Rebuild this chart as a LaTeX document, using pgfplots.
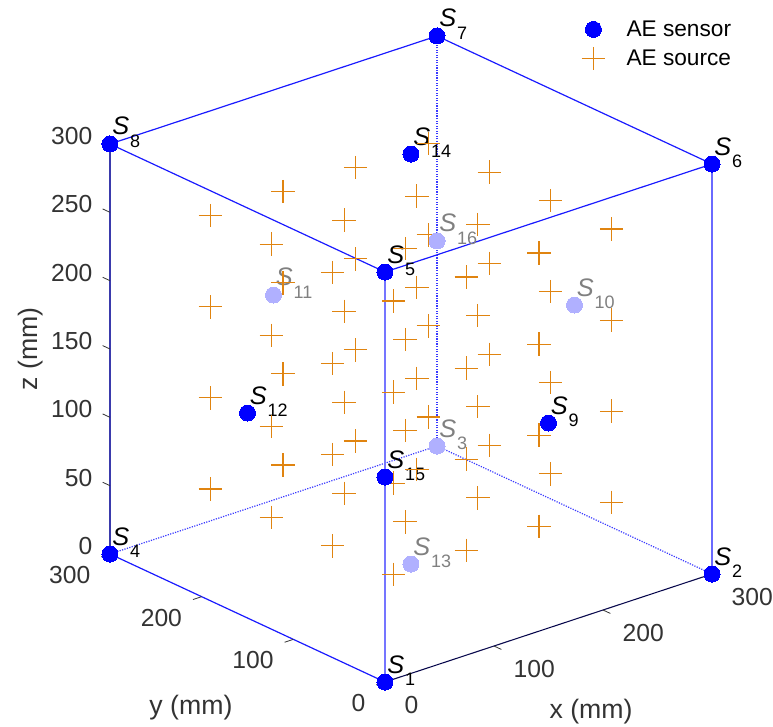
\documentclass[border=0pt]{standalone}
\usepackage{fontspec}
\setmainfont{Liberation Sans}
\usepackage{pgfplots}
\pgfplotsset{compat=1.18}
\definecolor{src}{HTML}{E08410}
\definecolor{pale}{HTML}{B0B0FF}
\definecolor{edge}{HTML}{1A1AFF}
\definecolor{front}{HTML}{7575FF}
\definecolor{dots}{HTML}{3A3AFF}
\definecolor{axc}{HTML}{333333}
\newcommand{\slab}[5][black]{\node[anchor=base west,inner sep=0pt,text=#1,xshift=1.5pt,yshift=6.75pt] at (axis cs:#2,#3,#4) {\fontsize{19pt}{19pt}\selectfont\textit{S}\raisebox{-9.5pt}{\hspace{0.8pt}\fontsize{13.5pt}{13.5pt}\selectfont #5}};}
\newcommand{\tk}[2]{\addplot3[forget plot,axc,line width=0.6pt] coordinates {#1 #2};}
\begin{document}
\begin{tikzpicture}
\path[use as bounding box] (-288.75pt,-33pt) rectangle (291pt,511.5pt);
\begin{axis}[
  at={(0,0)},anchor=origin,
  x={(0.8175pt,0.27pt)},y={(-0.6875pt,0.32pt)},z={(0pt,1.025pt)},
  xmin=0,xmax=300,ymin=0,ymax=300,zmin=0,zmax=300,
  clip=false,
  /pgf/number format/assume math mode=true,
  xtick={0,100,200,300},ytick={0,100,200,300},ztick={0,50,100,150,200,250,300},
  major tick length=0pt,
  tick style={draw=none},
  axis line style={draw=none},
  ticklabel style={text=axc,font=\fontsize{18.5pt}{18.5pt}\selectfont},
  xticklabel style={anchor=west,xshift=11.25pt,yshift=-17.25pt},
  yticklabel style={anchor=east,xshift=-11.25pt,yshift=-15.75pt},
  zticklabel style={anchor=east,xshift=-9.75pt,yshift=6pt},
  label style={text=axc,font=\fontsize{20pt}{20pt}\selectfont},
  xlabel={x (mm)},ylabel={y (mm)},zlabel={z (mm)},
  xlabel style={at={(axis cs:150,0,0)},anchor=center,xshift=31.9pt,yshift=-63pt},
  ylabel style={at={(axis cs:0,150,0)},anchor=center,xshift=-42.4pt,yshift=-67.5pt},
  zlabel style={at={(axis cs:0,300,150)},anchor=center,yshift=59.25pt},
  legend style={at={(axis description cs:0.72,0.985)},anchor=north west,draw=none,fill=none,
    xshift=25.5pt,yshift=23pt,
    font=\fontsize{17pt}{17pt}\selectfont,row sep=4.5pt},
  legend cell align=left,
]
\addlegendimage{only marks,mark=*,mark size=6pt,mark options={draw=blue,fill=blue,line width=0pt}}
\addlegendentry{\hspace{14pt}AE sensor}
\addlegendimage{only marks,mark=+,mark size=8.8pt,mark options={draw=src,line width=0.85pt}}
\addlegendentry{\hspace{14pt}AE source}
% sources
\addplot3[forget plot,only marks,mark=+,mark size=8.8pt,mark options={draw=src,line width=0.85pt}] coordinates {
(50,50,50)(50,50,116.7)(50,50,183.3)(50,50,250)
(50,116.7,50)(50,116.7,116.7)(50,116.7,183.3)(50,116.7,250)
(50,183.3,50)(50,183.3,116.7)(50,183.3,183.3)(50,183.3,250)
(50,250,50)(50,250,116.7)(50,250,183.3)(50,250,250)
(116.7,50,50)(116.7,50,116.7)(116.7,50,183.3)(116.7,50,250)
(116.7,116.7,50)(116.7,116.7,116.7)(116.7,116.7,183.3)(116.7,116.7,250)
(116.7,183.3,50)(116.7,183.3,116.7)(116.7,183.3,183.3)(116.7,183.3,250)
(116.7,250,50)(116.7,250,116.7)(116.7,250,183.3)(116.7,250,250)
(183.3,50,50)(183.3,50,116.7)(183.3,50,183.3)(183.3,50,250)
(183.3,116.7,50)(183.3,116.7,116.7)(183.3,116.7,183.3)(183.3,116.7,250)
(183.3,183.3,50)(183.3,183.3,116.7)(183.3,183.3,183.3)(183.3,183.3,250)
(183.3,250,50)(183.3,250,116.7)(183.3,250,183.3)(183.3,250,250)
(250,50,50)(250,50,116.7)(250,50,183.3)(250,50,250)
(250,116.7,50)(250,116.7,116.7)(250,116.7,183.3)(250,116.7,250)
(250,183.3,50)(250,183.3,116.7)(250,183.3,183.3)(250,183.3,250)
(250,250,50)(250,250,116.7)(250,250,183.3)(250,250,250)
};
% hidden edges
\addplot3[forget plot,dots,line width=0.9pt,densely dotted] coordinates {(0,300,0)(300,300,0)(300,0,0)};
\addplot3[forget plot,dots,line width=0.9pt,densely dotted] coordinates {(300,300,0)(300,300,300)};
% visible edges
\addplot3[forget plot,edge,line width=0.9pt] coordinates {(300,0,0)(300,0,300)(300,300,300)(0,300,300)};
\addplot3[forget plot,edge,line width=0.9pt] coordinates {(0,300,300)(0,0,300)(300,0,300)};
\addplot3[forget plot,edge,line width=0.9pt] coordinates {(0,0,0)(0,300,0)};
\addplot3[forget plot,color=black!30!gray!50!edge,line width=0.8pt] coordinates {(0,300,0)(0,300,300)};
\addplot3[forget plot,color=black!70!edge,line width=0.8pt] coordinates {(0,0,0)(300,0,0)};
\addplot3[forget plot,front,line width=1.2pt] coordinates {(0,0,0)(0,0,300)};
% hidden sensors
\addplot3[forget plot,only marks,mark=*,mark size=6pt,mark options={draw=pale,fill=pale,line width=0pt}] coordinates {
(300,300,0)(300,150,150)(150,300,150)(150,150,0)(300,300,150)};
% visible sensors
\addplot3[forget plot,only marks,mark=*,mark size=6pt,mark options={draw=blue,fill=blue,line width=0pt}] coordinates {
(0,0,0)(300,0,0)(0,300,0)(0,0,300)(300,0,300)(300,300,300)(0,300,300)
(150,0,150)(0,150,150)(150,150,300)(0,0,150)};
% tick marks
\tk{(0,0,0)}{(0,-8,0)}
\tk{(100,0,0)}{(100,-8,0)}
\tk{(200,0,0)}{(200,-8,0)}
\tk{(300,0,0)}{(300,-8,0)}
\tk{(0,0,0)}{(-8,0,0)}
\tk{(0,100,0)}{(-8,100,0)}
\tk{(0,200,0)}{(-8,200,0)}
\tk{(0,300,0)}{(-8,300,0)}
\tk{(0,300,0)}{(0,308,0)}
\tk{(0,300,50)}{(0,308,50)}
\tk{(0,300,100)}{(0,308,100)}
\tk{(0,300,150)}{(0,308,150)}
\tk{(0,300,200)}{(0,308,200)}
\tk{(0,300,250)}{(0,308,250)}
\tk{(0,300,300)}{(0,308,300)}
\slab{0}{0}{0}{1}
\slab{300}{0}{0}{2}
\slab[gray]{300}{300}{0}{3}
\slab{0}{300}{0}{4}
\slab{0}{0}{300}{5}
\slab{300}{0}{300}{6}
\slab{300}{300}{300}{7}
\slab{0}{300}{300}{8}
\slab{150}{0}{150}{9}
\slab[gray]{300}{150}{150}{10}
\slab[gray]{150}{300}{150}{11}
\slab{0}{150}{150}{12}
\slab[gray]{150}{150}{0}{13}
\slab{150}{150}{300}{14}
\slab{0}{0}{150}{15}
\slab[gray]{300}{300}{150}{16}
\end{axis}
\end{tikzpicture}
\end{document}
